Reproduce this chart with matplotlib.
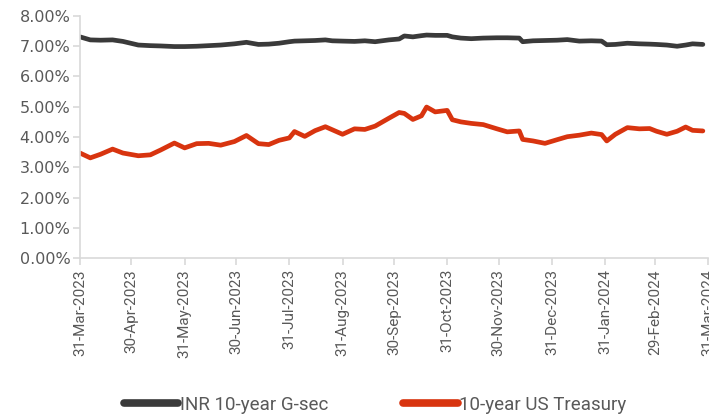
import matplotlib
matplotlib.use("Agg")
import matplotlib.pyplot as plt
from matplotlib.ticker import FuncFormatter
import pandas as pd

# weekly-ish readings, % yield
dates = ["2023-03-31", "2023-04-06", "2023-04-12", "2023-04-19", "2023-04-25", "2023-04-28",
         "2023-05-04", "2023-05-11", "2023-05-17", "2023-05-25", "2023-05-31", "2023-06-07",
         "2023-06-14", "2023-06-21", "2023-06-29", "2023-07-06", "2023-07-13", "2023-07-19",
         "2023-07-25", "2023-07-31", "2023-08-03", "2023-08-09", "2023-08-15", "2023-08-21",
         "2023-08-25", "2023-08-31", "2023-09-07", "2023-09-13", "2023-09-19", "2023-09-27",
         "2023-10-03", "2023-10-06", "2023-10-11", "2023-10-16", "2023-10-19", "2023-10-24",
         "2023-10-31", "2023-11-03", "2023-11-08", "2023-11-14", "2023-11-21", "2023-11-29",
         "2023-12-05", "2023-12-12", "2023-12-14", "2023-12-20", "2023-12-27", "2024-01-03",
         "2024-01-09", "2024-01-16", "2024-01-23", "2024-01-29", "2024-02-01", "2024-02-06",
         "2024-02-13", "2024-02-20", "2024-02-26", "2024-03-01", "2024-03-07", "2024-03-13",
         "2024-03-18", "2024-03-22", "2024-03-28"]

inr_gsec = [7.31, 7.21, 7.20, 7.21, 7.16, 7.12,
            7.04, 7.02, 7.01, 6.99, 6.99, 7.00,
            7.02, 7.04, 7.08, 7.13, 7.06, 7.07,
            7.10, 7.15, 7.17, 7.18, 7.19, 7.21,
            7.18, 7.17, 7.16, 7.18, 7.15, 7.21,
            7.24, 7.34, 7.31, 7.35, 7.37, 7.36,
            7.36, 7.31, 7.27, 7.25, 7.27, 7.28,
            7.28, 7.27, 7.15, 7.18, 7.19, 7.20,
            7.22, 7.17, 7.18, 7.17, 7.05, 7.06,
            7.10, 7.08, 7.07, 7.06, 7.04, 7.00,
            7.04, 7.08, 7.06]

us_treasury = [3.47, 3.31, 3.43, 3.60, 3.47, 3.44,
               3.38, 3.41, 3.57, 3.80, 3.64, 3.78,
               3.79, 3.73, 3.85, 4.05, 3.78, 3.75,
               3.89, 3.97, 4.18, 4.02, 4.21, 4.34,
               4.24, 4.09, 4.27, 4.25, 4.36, 4.62,
               4.81, 4.78, 4.58, 4.70, 4.99, 4.83,
               4.88, 4.57, 4.50, 4.45, 4.41, 4.27,
               4.17, 4.20, 3.92, 3.87, 3.79, 3.91,
               4.01, 4.06, 4.13, 4.08, 3.87, 4.09,
               4.31, 4.27, 4.28, 4.19, 4.09, 4.19,
               4.33, 4.22, 4.20]

tick_dates = ["2023-03-31", "2023-04-30", "2023-05-31", "2023-06-30", "2023-07-31",
              "2023-08-31", "2023-09-30", "2023-10-31", "2023-11-30", "2023-12-31",
              "2024-01-31", "2024-02-29", "2024-03-31"]
tick_labels = ["31-Mar-2023", "30-Apr-2023", "31-May-2023", "30-Jun-2023", "31-Jul-2023",
               "31-Aug-2023", "30-Sep-2023", "31-Oct-2023", "30-Nov-2023", "31-Dec-2023",
               "31-Jan-2024", "29-Feb-2024", "31-Mar-2024"]

x = pd.to_datetime(dates)
ticks = pd.to_datetime(tick_dates)

grey = "#595959"
axis_col = "#d9d9d9"

fig = plt.figure(figsize=(7.09, 4.19), dpi=100)
ax = fig.add_axes([80 / 709, 161 / 419, 628 / 709, 242 / 419])

ax.plot(x, inr_gsec, color="#3a3a3a", lw=3.4, label="INR 10-year G-sec", solid_capstyle="round")
ax.plot(x, us_treasury, color="#d8340f", lw=3.4, label="10-year US Treasury", solid_capstyle="round")

ax.set_ylim(0, 8)
ax.set_yticks(range(0, 9))
ax.yaxis.set_major_formatter(FuncFormatter(lambda v, p: f"{v:.2f}%"))
ax.set_xlim(ticks[0], ticks[-1])
ax.set_xticks(ticks)
ax.set_xticklabels(tick_labels, rotation=90, family="Roboto", fontsize=11, color=grey)
for lab in ax.get_yticklabels():
    lab.set_fontsize(11.5)
    lab.set_color(grey)

for s in ["top", "right"]:
    ax.spines[s].set_visible(False)
for s in ["left", "bottom"]:
    ax.spines[s].set_color(axis_col)
    ax.spines[s].set_linewidth(1.2)
ax.tick_params(axis="both", color=axis_col, length=5, width=1.2)
ax.tick_params(axis="x", pad=3)
ax.tick_params(axis="y", pad=2)

leg = ax.legend(loc="center", bbox_to_anchor=(0.47, -0.607), ncol=2, frameon=False,
                handlelength=2.9, handletextpad=0.1, columnspacing=4.0,
                prop={"family": "Roboto", "size": 13.5})
for t in leg.get_texts():
    t.set_color(grey)
for ln in leg.get_lines():
    ln.set_linewidth(5.5)

fig.savefig("out.png", dpi=100)
